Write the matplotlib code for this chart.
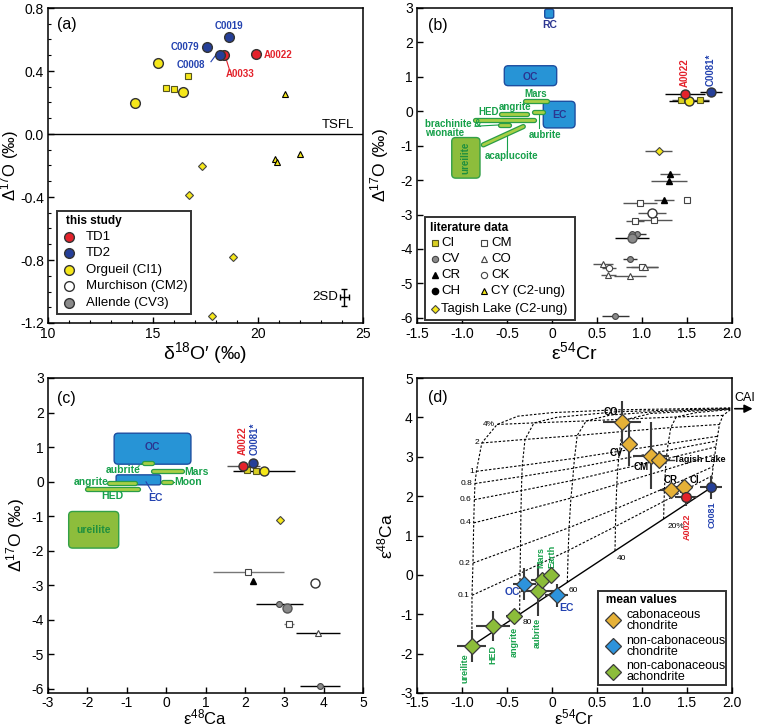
import numpy as np
import matplotlib.pyplot as plt
import matplotlib.patheffects as pe
from matplotlib.patches import FancyBboxPatch, Rectangle

plt.rcParams['font.family'] = ['Liberation Sans', 'DejaVu Sans']
plt.rcParams['mathtext.fontset'] = 'custom'
plt.rcParams['mathtext.rm'] = 'Liberation Sans'
plt.rcParams['mathtext.it'] = 'Liberation Sans:italic'
plt.rcParams['axes.unicode_minus'] = False

NARROW = ['Liberation Sans Narrow', 'DejaVu Sans Condensed', 'Liberation Sans']

# --- colours ---
RED = '#e3222b'; BLUE = '#253f98'; YEL = '#f5e71a'; GREY = '#8a8a8a'
T_RED = '#e3222b'; T_BLUE = '#2342b0'; T_GREEN = '#16a04a'
BOX_BLUE = '#2794d6'; BOX_EDGE = '#1d4ea0'; BOX_TXT = '#2b3590'
BAR_IN = '#a8cf45'; BAR_OUT = '#2a9d47'
URE_FILL = '#8dbd3c'; URE_EDGE = '#33a047'
CC_COL = '#e6b137'; NCC_COL = '#2d93dc'; NCA_COL = '#8cbd3a'

# --- panel (a): d18O' vs D17O ---
a_td1_x = [19.90, 18.38]; a_td1_y = [0.51, 0.50]
a_td2_x = [18.63, 17.56, 18.19]; a_td2_y = [0.614, 0.554, 0.50]
a_org_x = [15.24, 16.44, 14.13]; a_org_y = [0.453, 0.267, 0.20]
a_ci_x = [16.67, 15.98, 15.63]; a_ci_y = [0.37, 0.286, 0.29]
a_cy_x = [21.30, 20.83, 20.90, 22.01]; a_cy_y = [0.256, -0.16, -0.18, -0.13]
a_tl_x = [17.32, 16.73, 18.81, 17.81]; a_tl_y = [-0.20, -0.387, -0.78, -1.154]

# --- panel (b): e54Cr vs D17O ---
b_td1 = (1.48, 0.502, 0.22)
b_td2 = (1.767, 0.551, 0.12)
b_org = (1.52, 0.30, 0.22)
b_ci_x = [1.433, 1.648]; b_ci_y = [0.329, 0.329]; b_ci_e = [0.10, 0.10]
b_tl = (1.185, -1.14, 0.15)
b_cr_x = [1.311, 1.296, 1.248]; b_cr_y = [-1.816, -2.039, -2.57]; b_cr_e = [0.11, 0.20, 0.11]
b_cm_x = [1.496, 0.978, 1.13, 0.926, 1.00]; b_cm_y = [-2.57, -2.657, -3.15, -3.198, -4.53]
b_cm_e = [0.0, 0.19, 0.20, 0.10, 0.18]
b_ck_x = [0.63]; b_ck_y = [-4.55]; b_ck_e = [0.08]
b_cv_x = [0.944, 0.89, 0.867, 0.70]; b_cv_y = [-3.565, -3.556, -4.30, -5.94]; b_cv_e = [0.10, 0.0, 0.08, 0.15]
b_co_x = [0.57, 1.03, 0.626, 0.867]; b_co_y = [-4.444, -4.53, -4.744, -4.78]; b_co_e = [0.11, 0.15, 0.08, 0.18]
b_murch = (1.11, -2.957, 0.16)
b_allende = (0.885, -3.68, 0.19)

# --- panel (c): e48Ca vs D17O ---
c_td1 = (1.96, 0.463, 0.42)
c_td2 = (2.214, 0.531, 0.0)
c_org = (2.49, 0.29, 0.79)
c_ci_x = [2.046, 2.28]; c_ci_y = [0.338, 0.318]
c_tl = (2.89, -1.129)
c_cm_x = [2.087, 3.12]; c_cm_y = [-2.635, -4.12]; c_cm_e = [0.90, 0.13]
c_cr = (2.214, -2.896)
c_murch = (3.78, -2.944)
c_cv_x = [2.875, 3.91]; c_cv_y = [-3.54, -5.917]; c_cv_e = [0.59, 0.50]
c_allende = (3.08, -3.668)
c_co = (3.85, -4.39, 0.56)

# --- panel (d): e54Cr vs e48Ca mean values ---
d_cc_x = [0.778, 0.859, 1.10, 1.185, 1.322, 1.47]
d_cc_y = [3.88, 3.32, 3.03, 2.93, 2.16, 2.23]
d_cc_xe = [0.21, 0.05, 0.20, 0.13, 0.12, 0.10]
d_cc_ye = [0.53, 0.55, 0.85, 0.08, 0.15, 0.15]
d_ncc_x = [-0.307, 0.052]; d_ncc_y = [-0.23, -0.52]
d_ncc_xe = [0.13, 0.13]; d_ncc_ye = [0.40, 0.30]
d_nca_x = [-0.893, -0.659, -0.426, -0.159, -0.115, -0.007]
d_nca_y = [-1.80, -1.31, -1.05, -0.40, -0.14, 0.0]
d_nca_xe = [0.16, 0.19, 0.08, 0.19, 0.12, 0.05]
d_nca_ye = [0.40, 0.38, 0.10, 0.64, 0.15, 0.05]
d_td1 = (1.49, 1.98, 0.12, 0.23)
d_td2 = (1.767, 2.22, 0.12, 0.30)

# mixing grid: rows = CAI fraction, cols = NC fraction
GRID_COLS = ['100%', '80', '60', '40', '20%', '0']
CAI_LEVELS = ['0', '0.1', '0.2', '0.4', '0.6', '0.8', '1', '2', '4%']
GRID_X = [
    [-0.89, -0.36, 0.17, 0.70, 1.24, 1.77],
    [-0.889, -0.355, 0.18, 0.705, 1.245, 1.78],
    [-0.878, -0.35, 0.19, 0.71, 1.25, 1.79],
    [-0.87, -0.345, 0.21, 0.72, 1.26, 1.81],
    [-0.863, -0.34, 0.23, 0.73, 1.27, 1.82],
    [-0.856, -0.335, 0.24, 0.74, 1.28, 1.83],
    [-0.84, -0.33, 0.25, 0.75, 1.29, 1.84],
    [-0.78, -0.30, 0.28, 0.78, 1.32, 1.86],
    [-0.61, -0.20, 0.38, 0.85, 1.38, 1.90],
]
GRID_Y = [
    [-1.80, -1.00, -0.19, 0.61, 1.42, 2.22],
    [-0.52, 0.04, 0.62, 1.23, 1.87, 2.52],
    [0.30, 0.74, 1.20, 1.68, 2.20, 2.75],
    [1.32, 1.62, 1.95, 2.30, 2.67, 3.05],
    [1.91, 2.14, 2.40, 2.67, 2.95, 3.25],
    [2.32, 2.50, 2.71, 2.93, 3.16, 3.40],
    [2.63, 2.78, 2.96, 3.14, 3.33, 3.52],
    [3.35, 3.44, 3.54, 3.64, 3.74, 3.82],
    [3.82, 3.86, 3.91, 3.96, 4.01, 4.05],
]
TOP_X = [[-0.38, 0.0, 0.7, 1.98], [0.05, 0.7, 1.98], [0.65, 1.2, 1.98], [1.1, 1.98], [1.6, 1.98], [1.98]]
TOP_Y = [[4.03, 4.12, 4.19, 4.24], [4.00, 4.14, 4.23], [4.06, 4.15, 4.22], [4.10, 4.21], [4.12, 4.20], [4.19]]


def style_axes(ax, xlim, ylim, xticks, xlabels, yticks, ylabels, xpad=3):
    ax.set_xlim(*xlim)
    ax.set_ylim(*ylim)
    ax.set_xticks(xticks)
    ax.set_xticklabels(xlabels)
    ax.set_yticks(yticks)
    ax.set_yticklabels(ylabels)
    ax.tick_params(direction='in', length=4, width=1, labelsize=10, pad=3)
    ax.tick_params(axis='x', pad=xpad)
    ax.tick_params(which='minor', direction='in', length=2, width=0.8)
    for s in ax.spines.values():
        s.set_linewidth(1.1)


def box_legend(ax, rect, title, title_xy, items, fs=9.5):
    x0, y0, x1, y1 = rect
    ax.add_patch(Rectangle((x0, y0), x1 - x0, y1 - y0, transform=ax.transAxes,
                           facecolor='white', edgecolor='#333333', lw=1.4, zorder=8))
    ax.text(title_xy[0], title_xy[1], title, transform=ax.transAxes, fontweight='bold',
            fontsize=8.5, va='center', zorder=9)
    for mx, tx, y, mk, label in items:
        ax.plot([mx], [y], transform=ax.transAxes, zorder=9, clip_on=False, ls='none', **mk)
        ax.text(tx, y, label, transform=ax.transAxes, va='center', fontsize=fs,
                linespacing=0.9, zorder=9)


def green_bar(ax, xs, ys):
    ax.plot(xs, ys, color=BAR_IN, lw=2.0, solid_capstyle='round', zorder=3,
            path_effects=[pe.Stroke(linewidth=3.8, foreground=BAR_OUT), pe.Normal()])


def rbox(ax, x0, y0, x1, y1, fc, ec, r, asp):
    ax.add_patch(FancyBboxPatch((x0, y0), x1 - x0, y1 - y0,
                                boxstyle=f'round,pad=0,rounding_size={r}',
                                mutation_aspect=asp, facecolor=fc, edgecolor=ec,
                                lw=1.0, zorder=2))


def lab(ax, x, y, s, color, **kw):
    kw.setdefault('fontsize', 7)
    ax.text(x, y, s, color=color, fontweight='bold', family=NARROW, **kw)


fig = plt.figure(figsize=(7.57, 7.27), dpi=100)
W, H = 757, 727
aw, ah = 315 / W, 315 / H
ax_a = fig.add_axes([48 / W, (H - 323) / H, aw, ah])
ax_b = fig.add_axes([417 / W, (H - 323) / H, aw, ah])
ax_c = fig.add_axes([48 / W, (H - 693) / H, aw, ah])
ax_d = fig.add_axes([417 / W, (H - 693) / H, aw, ah])
XL, YL, XL2 = 14, 12.5, 12

# ================= (a) =================
ax = ax_a
style_axes(ax, (10, 25), (-1.2, 0.8), [10, 15, 20, 25], ['10', '15', '20', '25'],
           [-1.2, -0.8, -0.4, 0.0, 0.4, 0.8], ['-1.2', '-0.8', '-0.4', '0.0', '0.4', '0.8'])
ax.set_xticks(np.arange(10, 26, 1), minor=True)
ax.set_yticks(np.arange(-1.2, 0.81, 0.1), minor=True)
ax.axhline(0, color='k', lw=1)
ax.text(24.6, 0.02, 'TSFL', ha='right', va='bottom', fontsize=9.5)
ax.plot(a_ci_x, a_ci_y, 's', ms=4.2, mfc=YEL, mec='#555520', mew=0.8, zorder=4)
ax.plot(a_cy_x, a_cy_y, '^', ms=4.5, mfc=YEL, mec='k', mew=0.8, zorder=4)
ax.plot(a_tl_x, a_tl_y, 'D', ms=3.6, mfc=YEL, mec='#444444', mew=0.8, zorder=4)
ax.plot(a_org_x, a_org_y, 'o', ms=7, mfc=YEL, mec='#333333', mew=1, zorder=5)
ax.plot(a_td1_x, a_td1_y, 'o', ms=7, mfc=RED, mec='#333333', mew=1, zorder=5)
ax.plot(a_td2_x, a_td2_y, 'o', ms=7, mfc=BLUE, mec='#333333', mew=1, zorder=6)
lab(ax, 18.63, 0.688, 'C0019', T_BLUE, ha='center', va='center')
lab(ax, 17.2, 0.554, 'C0079', T_BLUE, ha='right', va='center')
lab(ax, 17.48, 0.436, 'C0008', T_BLUE, ha='right', va='center')
ax.plot([17.76, 18.05], [0.459, 0.512], color=T_BLUE, lw=0.8)
lab(ax, 19.14, 0.381, 'A0033', T_RED, ha='center', va='center')
ax.plot([18.45, 18.63], [0.49, 0.413], color=T_RED, lw=0.8)
lab(ax, 20.25, 0.50, 'A0022', T_RED, ha='left', va='center')
ax.errorbar([24.11], [-1.037], yerr=0.053, xerr=0.2, fmt='none', ecolor='k',
            elinewidth=1, capsize=2)
ax.text(23.82, -1.037, '2SD', ha='right', va='center', fontsize=9.5)
ax.text(0.059, 0.949, '(a)', transform=ax.transAxes, ha='center', va='center', fontsize=11.5)
ax.set_xlabel("δ$^{18}$O′ (‰)", fontsize=XL)
ax.set_ylabel("Δ$^{17}$O (‰)", fontsize=12)
ax.xaxis.set_label_coords(0.5, -0.055)
ax.yaxis.set_label_coords(-0.085, 0.5)
circ = dict(marker='o', ms=7, mec='#333333', mew=1)
box_legend(ax, (0.029, 0.029, 0.454, 0.356), 'this study', (0.057, 0.324), [
    (0.067, 0.121, 0.272, dict(circ, mfc=RED), 'TD1'),
    (0.067, 0.121, 0.221, dict(circ, mfc=BLUE), 'TD2'),
    (0.067, 0.121, 0.168, dict(circ, mfc=YEL), 'Orgueil (CI1)'),
    (0.067, 0.121, 0.117, dict(circ, mfc='white'), 'Murchison (CM2)'),
    (0.067, 0.121, 0.064, dict(circ, mfc=GREY), 'Allende (CV3)'),
])

# ================= (b) =================
ax = ax_b
style_axes(ax, (-1.5, 2.0), (-6.15, 3), [-1.5, -1.0, -0.5, 0, 0.5, 1.0, 1.5, 2.0],
           ['-1.5', '-1.0', '-0.5', '0', '0.5', '1.0', '1.5', '2.0'],
           [-6, -5, -4, -3, -2, -1, 0, 1, 2, 3], ['-6', '-5', '-4', '-3', '-2', '-1', '0', '1', '2', '3'])
rb, ab = 0.044, 2.6
rbox(ax, -0.081, 2.705, 0.019, 2.966, BOX_BLUE, BOX_EDGE, 0.02, ab)
lab(ax, -0.03, 2.50, 'RC', BOX_TXT, ha='center', va='center', fontsize=7.5)
rbox(ax, -0.53, 0.744, 0.052, 1.323, BOX_BLUE, BOX_EDGE, rb, ab)
lab(ax, -0.237, 1.005, 'OC', BOX_TXT, ha='center', va='center', fontsize=7.5)
rbox(ax, -0.097, -0.483, 0.256, 0.29, BOX_BLUE, BOX_EDGE, rb, ab)
lab(ax, 0.081, -0.097, 'EC', BOX_TXT, ha='center', va='center', fontsize=7.5)
rbox(ax, -1.114, -1.942, -0.80, -0.763, URE_FILL, URE_EDGE, rb, ab)
lab(ax, -0.957, -1.35, 'ureilite', '#1f8f3e', ha='center', va='center', rotation=90)
green_bar(ax, [-0.30, -0.052], [0.30, 0.30])
lab(ax, -0.178, 0.502, 'Mars', T_GREEN, ha='center', va='center')
green_bar(ax, [-0.567, -0.274], [-0.068, -0.068])
lab(ax, -0.411, 0.116, 'angrite', T_GREEN, ha='center', va='center')
green_bar(ax, [-0.856, -0.20], [-0.242, -0.242])
lab(ax, -0.707, -0.01, 'HED', T_GREEN, ha='center', va='center')
green_bar(ax, [-0.20, -0.103], [-0.01, -0.01])
ax.plot([-0.15, -0.15], [-0.03, -0.49], color=T_GREEN, lw=0.8)
lab(ax, -0.078, -0.676, 'aubrite', T_GREEN, ha='center', va='center')
green_bar(ax, [-0.578, -0.474], [-0.396, -0.396])
ax.plot([-0.856, -0.578], [-0.435, -0.396], color=T_GREEN, lw=0.8)
lab(ax, -1.415, -0.367, 'brachinite &', T_GREEN, ha='left', va='center')
lab(ax, -1.415, -0.628, 'wionaite', T_GREEN, ha='left', va='center')
green_bar(ax, [-0.763, -0.319], [-0.976, -0.444])
ax.plot([-0.503, -0.503], [-0.705, -1.14], color=T_GREEN, lw=0.8)
lab(ax, -0.448, -1.30, 'acaplucoite', T_GREEN, ha='center', va='center')

eb = dict(fmt='none', elinewidth=1, capsize=0, zorder=3)
ax.errorbar(b_ci_x, b_ci_y, xerr=b_ci_e, ecolor='#555555', **eb)
ax.errorbar([b_org[0]], [b_org[1]], xerr=b_org[2], ecolor='k', **eb)
ax.errorbar([b_td1[0]], [b_td1[1]], xerr=b_td1[2], ecolor='k', **eb)
ax.errorbar([b_td2[0]], [b_td2[1]], xerr=b_td2[2], ecolor='k', **eb)
ax.errorbar([b_tl[0]], [b_tl[1]], xerr=b_tl[2], ecolor='#555555', **eb)
ax.errorbar(b_cr_x, b_cr_y, xerr=b_cr_e, ecolor='#555555', **eb)
ax.errorbar(b_cm_x, b_cm_y, xerr=b_cm_e, ecolor='#555555', **eb)
ax.errorbar(b_ck_x, b_ck_y, xerr=b_ck_e, ecolor='#555555', **eb)
ax.errorbar(b_cv_x, b_cv_y, xerr=b_cv_e, ecolor='#333333', **eb)
ax.errorbar(b_co_x, b_co_y, xerr=b_co_e, ecolor='#555555', **eb)
ax.errorbar([b_murch[0]], [b_murch[1]], xerr=b_murch[2], ecolor='#555555', **eb)
ax.errorbar([b_allende[0]], [b_allende[1]], xerr=b_allende[2], ecolor='k', **eb)
ax.plot(b_ci_x, b_ci_y, 's', ms=4.5, mfc='#d9cf22', mec='#555520', mew=0.8, zorder=4)
ax.plot(b_cr_x, b_cr_y, '^', ms=5, mfc='k', mec='k', zorder=4)
ax.plot(b_cm_x, b_cm_y, 's', ms=4.5, mfc='white', mec='#444444', mew=0.8, zorder=4)
ax.plot(b_co_x, b_co_y, '^', ms=5, mfc='white', mec='#444444', mew=0.8, zorder=4)
ax.plot(b_ck_x, b_ck_y, 'o', ms=4.5, mfc='white', mec='#444444', mew=0.8, zorder=4)
ax.plot(b_cv_x, b_cv_y, 'o', ms=4.2, mfc=GREY, mec='#444444', mew=0.8, zorder=4)
ax.plot([b_tl[0]], [b_tl[1]], 'D', ms=3.6, mfc=YEL, mec='#444444', mew=0.8, zorder=4)
ax.plot([b_murch[0]], [b_murch[1]], 'o', ms=6.5, mfc='white', mec='#333333', mew=1, zorder=5)
ax.plot([b_allende[0]], [b_allende[1]], 'o', ms=6.5, mfc=GREY, mec='#555555', mew=1, zorder=5)
ax.plot([b_org[0]], [b_org[1]], 'o', ms=6.5, mfc=YEL, mec='#333333', mew=1, zorder=5)
ax.plot([b_td1[0]], [b_td1[1]], 'o', ms=6.5, mfc=RED, mec='#333333', mew=1, zorder=5)
ax.plot([b_td2[0]], [b_td2[1]], 'o', ms=6.5, mfc=BLUE, mec='#333333', mew=1, zorder=5)
lab(ax, 1.47, 0.70, 'A0022', T_RED, ha='center', va='bottom', rotation=90)
lab(ax, 1.763, 0.74, 'C0081*', T_BLUE, ha='center', va='bottom', rotation=90)
ax.text(0.067, 0.946, '(b)', transform=ax.transAxes, ha='center', va='center', fontsize=11.5)
ax.set_xlabel("ε$^{54}$Cr", fontsize=XL)
ax.set_ylabel("Δ$^{17}$O (‰)", fontsize=YL)
ax.xaxis.set_label_coords(0.5, -0.058)
ax.yaxis.set_label_coords(-0.083, 0.5)
m1, t1, m2, t2 = 0.056, 0.077, 0.213, 0.236
box_legend(ax, (0.024, 0.01, 0.5, 0.337), 'literature data', (0.042, 0.303), [
    (m1, t1, 0.253, dict(marker='s', ms=4.5, mfc='#d9cf22', mec='#555520', mew=0.8), 'CI'),
    (m1, t1, 0.203, dict(marker='o', ms=4.5, mfc=GREY, mec='#444444', mew=0.8), 'CV'),
    (m1, t1, 0.151, dict(marker='^', ms=5, mfc='k', mec='k'), 'CR'),
    (m1, t1, 0.102, dict(marker='o', ms=4.5, mfc='k', mec='k'), 'CH'),
    (m1, t1, 0.045, dict(marker='D', ms=3.6, mfc=YEL, mec='#444444', mew=0.8), 'Tagish Lake (C2-ung)'),
    (m2, t2, 0.253, dict(marker='s', ms=4.5, mfc='white', mec='#444444', mew=0.8), 'CM'),
    (m2, t2, 0.203, dict(marker='^', ms=5, mfc='white', mec='#444444', mew=0.8), 'CO'),
    (m2, t2, 0.151, dict(marker='o', ms=4.5, mfc='white', mec='#444444', mew=0.8), 'CK'),
    (m2, t2, 0.102, dict(marker='^', ms=5, mfc=YEL, mec='k', mew=0.8), 'CY (C2-ung)'),
])

# ================= (c) =================
ax = ax_c
style_axes(ax, (-3, 5), (-6.13, 3), list(range(-3, 6)), [str(v) for v in range(-3, 6)],
           list(range(-6, 4)), [str(v) for v in range(-6, 4)], xpad=2)
rc, ac = 0.1, 1.14
rbox(ax, -1.32, 0.502, 0.63, 1.40, BOX_BLUE, BOX_EDGE, rc, ac)
lab(ax, -0.34, 0.994, 'OC', BOX_TXT, ha='center', va='center', fontsize=7.5)
rbox(ax, -1.27, -0.097, -0.138, 0.193, BOX_BLUE, BOX_EDGE, 0.05, ac)
rbox(ax, -2.475, -1.93, -1.204, -0.869, URE_FILL, URE_EDGE, rc, ac)
lab(ax, -1.85, -1.40, 'ureilite', '#1f8f3e', ha='center', va='center', fontsize=7.5)
green_bar(ax, [-0.56, -0.35], [0.55, 0.55])
ax.plot([-0.72, -0.56], [0.43, 0.55], color=T_GREEN, lw=0.8, ls=(0, (2, 1)))
lab(ax, -1.087, 0.338, 'aubrite', T_GREEN, ha='center', va='center', fontsize=7.5)
green_bar(ax, [-0.34, 0.40], [0.318, 0.318])
lab(ax, 0.45, 0.27, 'Mars', T_GREEN, ha='left', va='center', fontsize=7.5)
green_bar(ax, [-0.087, 0.124], [-0.01, -0.01])
ax.plot([0.124, 0.2], [-0.01, -0.01], color=T_GREEN, lw=0.8)
lab(ax, 0.2, -0.01, 'Moon', T_GREEN, ha='left', va='center', fontsize=7.5)
green_bar(ax, [-1.45, -0.79], [-0.039, -0.039])
lab(ax, -1.45, -0.01, 'angrite', T_GREEN, ha='right', va='center', fontsize=7.5)
green_bar(ax, [-2.0, -0.707], [-0.212, -0.212])
lab(ax, -1.36, -0.434, 'HED', T_GREEN, ha='center', va='center', fontsize=7.5)
ax.plot([-0.51, -0.366], [-0.01, -0.29], color=T_BLUE, lw=0.8)
lab(ax, -0.283, -0.483, 'EC', T_BLUE, ha='center', va='center', fontsize=7.5)

ax.errorbar([c_org[0]], [c_org[1]], xerr=c_org[2], ecolor='k', **eb)
ax.errorbar([c_td1[0]], [c_td1[1]], xerr=c_td1[2], ecolor='#555555', **eb)
ax.errorbar(c_cm_x, c_cm_y, xerr=c_cm_e, ecolor='#777777', **eb)
ax.errorbar(c_cv_x, c_cv_y, xerr=c_cv_e, ecolor='k', **eb)
ax.errorbar([c_co[0]], [c_co[1]], xerr=c_co[2], ecolor='k', **eb)
ax.plot(c_ci_x, c_ci_y, 's', ms=4.5, mfc='#d9cf22', mec='#555520', mew=0.8, zorder=4)
ax.plot(c_cm_x, c_cm_y, 's', ms=4.5, mfc='white', mec='#444444', mew=0.8, zorder=4)
ax.plot([c_cr[0]], [c_cr[1]], '^', ms=5, mfc='k', mec='k', zorder=4)
ax.plot(c_cv_x, c_cv_y, 'o', ms=4.2, mfc=GREY, mec='#444444', mew=0.8, zorder=4)
ax.plot([c_co[0]], [c_co[1]], '^', ms=5, mfc='white', mec='#444444', mew=0.8, zorder=4)
ax.plot([c_tl[0]], [c_tl[1]], 'D', ms=3.6, mfc=YEL, mec='#444444', mew=0.8, zorder=4)
ax.plot([c_murch[0]], [c_murch[1]], 'o', ms=6.5, mfc='white', mec='#333333', mew=1, zorder=5)
ax.plot([c_allende[0]], [c_allende[1]], 'o', ms=6.5, mfc=GREY, mec='#555555', mew=1, zorder=5)
ax.plot([c_org[0]], [c_org[1]], 'o', ms=6.5, mfc=YEL, mec='#333333', mew=1, zorder=5)
ax.plot([c_td1[0]], [c_td1[1]], 'o', ms=6.5, mfc=RED, mec='#333333', mew=1, zorder=5)
ax.plot([c_td2[0]], [c_td2[1]], 'o', ms=6.5, mfc=BLUE, mec='#333333', mew=1, zorder=5)
lab(ax, 1.95, 0.77, 'A0022', T_RED, ha='center', va='bottom', rotation=90)
lab(ax, 2.25, 0.77, 'C0081*', T_BLUE, ha='center', va='bottom', rotation=90)
ax.text(0.059, 0.936, '(c)', transform=ax.transAxes, ha='center', va='center', fontsize=11.5)
ax.set_xlabel("ε$^{48}$Ca", fontsize=XL2, va='bottom')
ax.set_ylabel("Δ$^{17}$O (‰)", fontsize=YL)
ax.xaxis.set_label_coords(0.5, -0.11)
ax.yaxis.set_label_coords(-0.067, 0.5)

# ================= (d) =================
ax = ax_d
style_axes(ax, (-1.5, 2.0), (-3, 5), [-1.5, -1.0, -0.5, 0, 0.5, 1.0, 1.5, 2.0],
           ['-1.5', '-1.0', '-0.5', '0', '0.5', '1.0', '1.5', '2.0'],
           list(range(-3, 6)), [str(v) for v in range(-3, 6)], xpad=2)
dash = dict(color='k', lw=0.8, ls=(0, (2.2, 1.6)), zorder=1)
for j in range(len(GRID_COLS)):
    xs = [row[j] for row in GRID_X] + TOP_X[j]
    ys = [row[j] for row in GRID_Y] + TOP_Y[j]
    ax.plot(xs, ys, **dash)
for i in range(1, len(CAI_LEVELS)):
    ax.plot(GRID_X[i], GRID_Y[i], **dash)
ax.plot(GRID_X[0], GRID_Y[0], color='k', lw=1, zorder=1)
for i in range(1, len(CAI_LEVELS)):
    ax.text(GRID_X[i][0] - 0.03, GRID_Y[i][0], CAI_LEVELS[i], ha='right', va='center', fontsize=6)
for j, off in zip(range(1, 5), [(0.03, -0.2), (0.02, -0.2), (0.02, -0.2), (0.04, -0.2)]):
    ax.text(GRID_X[0][j] + off[0], GRID_Y[0][j] + off[1], GRID_COLS[j], ha='left', va='center', fontsize=6)

ebd = dict(fmt='none', ecolor='#3a3a3a', elinewidth=1.5, capsize=0, zorder=3)
ax.errorbar(d_cc_x, d_cc_y, xerr=d_cc_xe, yerr=d_cc_ye, **ebd)
ax.errorbar(d_ncc_x, d_ncc_y, xerr=d_ncc_xe, yerr=d_ncc_ye, **ebd)
ax.errorbar(d_nca_x, d_nca_y, xerr=d_nca_xe, yerr=d_nca_ye, **ebd)
ax.errorbar([d_td1[0], d_td2[0]], [d_td1[1], d_td2[1]], xerr=[d_td1[2], d_td2[2]],
            yerr=[d_td1[3], d_td2[3]], **ebd)
dm = dict(marker='D', ms=8, mec='#3a3a3a', mew=0.9, ls='none', zorder=4)
ax.plot(d_cc_x, d_cc_y, mfc=CC_COL, **dm)
ax.plot(d_ncc_x, d_ncc_y, mfc=NCC_COL, **dm)
ax.plot(d_nca_x, d_nca_y, mfc=NCA_COL, **dm)
ax.plot([d_td1[0]], [d_td1[1]], 'o', ms=7, mfc=RED, mec='#333333', mew=1, zorder=5)
ax.plot([d_td2[0]], [d_td2[1]], 'o', ms=7, mfc=BLUE, mec='#333333', mew=1, zorder=5)

lab(ax, 0.656, 4.13, 'CO', 'k', ha='center', va='center')
lab(ax, 0.71, 3.1, 'CV', 'k', ha='center', va='center')
lab(ax, 0.99, 2.75, 'CM', 'k', ha='center', va='center')
ax.plot([1.27, 1.35], [2.93, 2.93], color='#3a3a3a', lw=1)
lab(ax, 1.36, 2.93, 'Tagish Lake', 'k', ha='left', va='center', fontsize=6.5)
lab(ax, 1.32, 2.42, 'CR', 'k', ha='center', va='center')
lab(ax, 1.58, 2.40, 'CI', 'k', ha='center', va='center')
lab(ax, 1.5, 1.57, 'A0022', T_RED, ha='center', va='top', rotation=90, fontsize=6.5)
lab(ax, 1.775, 1.87, 'C0081', T_BLUE, ha='center', va='top', rotation=90, fontsize=6.5)
lab(ax, -0.444, -0.44, 'OC', T_BLUE, ha='center', va='center', fontsize=7.5)
lab(ax, 0.163, -0.83, 'EC', T_BLUE, ha='center', va='center', fontsize=7.5)
lab(ax, -0.122, 0.17, 'Mars', T_GREEN, ha='center', va='bottom', rotation=90, fontsize=6.5)
lab(ax, 0.003, 0.17, 'Earth', T_GREEN, ha='center', va='bottom', rotation=90, fontsize=6.5)
lab(ax, -0.16, -1.1, 'aubrite', T_GREEN, ha='center', va='top', rotation=90, fontsize=6.5)
lab(ax, -0.42, -1.31, 'angrite', T_GREEN, ha='center', va='top', rotation=90, fontsize=6.5)
lab(ax, -0.66, -1.77, 'HED', T_GREEN, ha='center', va='top', rotation=90, fontsize=6.5)
lab(ax, -0.967, -1.99, 'ureilite', T_GREEN, ha='center', va='top', rotation=90, fontsize=6.5)

ax.annotate('', xy=(2.26, 4.22), xytext=(2.0, 4.22), annotation_clip=False,
            arrowprops=dict(arrowstyle='-|>', color='k', lw=1.2, mutation_scale=12))
ax.text(2.14, 4.49, 'CAI', ha='center', va='center', fontsize=9, clip_on=False)
ax.text(0.067, 0.937, '(d)', transform=ax.transAxes, ha='center', va='center', fontsize=11.5)
ax.set_xlabel("ε$^{54}$Cr", fontsize=XL2, va='bottom')
ax.set_ylabel("ε$^{48}$Ca", fontsize=YL)
ax.xaxis.set_label_coords(0.5, -0.11)
ax.yaxis.set_label_coords(-0.07, 0.5)
dleg = dict(marker='D', ms=8, mec='#3a3a3a', mew=0.9)
box_legend(ax, (0.575, 0.025, 0.982, 0.325), 'mean values', (0.601, 0.295), [
    (0.622, 0.665, 0.231, dict(dleg, mfc=CC_COL), 'cabonaceous\nchondrite'),
    (0.622, 0.665, 0.149, dict(dleg, mfc=NCC_COL), 'non-cabonaceous\nchondrite'),
    (0.622, 0.665, 0.068, dict(dleg, mfc=NCA_COL), 'non-cabonaceous\nachondrite'),
], fs=9)

fig.savefig('out.png', dpi=100)
